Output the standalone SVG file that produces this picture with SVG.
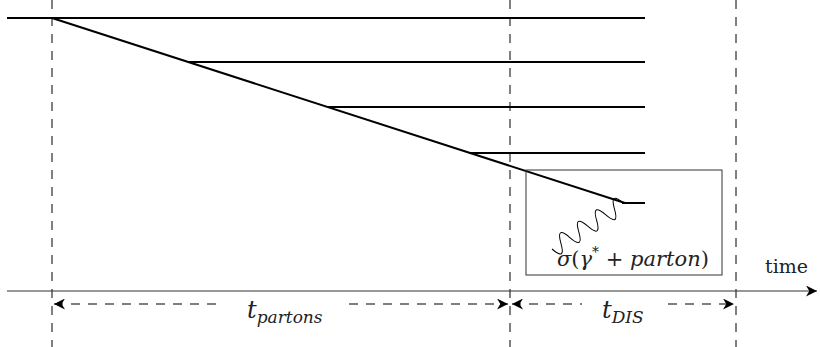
<svg xmlns="http://www.w3.org/2000/svg" width="820" height="347" viewBox="0 0 820 347">
<defs>
<marker id="ah" viewBox="0 0 10 10" refX="10" refY="5" markerWidth="11" markerHeight="11" markerUnits="userSpaceOnUse" orient="auto-start-reverse">
<path d="M0,0 L10,5 L0,10 L3,5 Z" fill="#000"/>
</marker>
</defs>
<style>
.line{stroke:#000;stroke-width:2;fill:none}
.vd{stroke:#000;stroke-width:1;stroke-dasharray:9 8;fill:none}
.ad{stroke:#000;stroke-width:1.2;stroke-dasharray:9 8;fill:none}
.t{font-family:"DejaVu Serif",serif;font-style:italic;fill:#222}
.r{font-family:"DejaVu Serif",serif;fill:#222}
</style>
<rect width="820" height="347" fill="#fff"/>
<g id="guides">
<line class="vd" x1="52" y1="0" x2="52" y2="347"/>
<line class="vd" x1="510" y1="0" x2="510" y2="347"/>
<line class="vd" x1="736" y1="0" x2="736" y2="347"/>
</g>
<g id="partons">
<line class="line" x1="7" y1="18" x2="645" y2="18"/>
<line class="line" x1="52" y1="18" x2="625" y2="203"/>
<line class="line" x1="188" y1="62" x2="645" y2="62"/>
<line class="line" x1="328" y1="107" x2="645" y2="107"/>
<line class="line" x1="469" y1="153" x2="645" y2="153"/>
<line class="line" x1="622" y1="203" x2="645" y2="203"/>
</g>
<g id="dis-box">
<rect x="526" y="170" width="196" height="105" fill="none" stroke="#333" stroke-width="1"/>
<path transform="translate(552,249) rotate(-32.6)" d="M0,0 Q5.3,18 10.6,0 T21.2,0 T31.8,0 T42.4,0 T53,0 T63.6,0 T74.2,0 T84.8,0" fill="none" stroke="#000" stroke-width="1"/>
<text class="r" x="557" y="266" font-size="21"><tspan class="t">σ</tspan>(<tspan class="t">γ</tspan><tspan font-size="14" dy="-9">*</tspan><tspan dy="9"> + </tspan><tspan class="t">parton</tspan>)</text>
</g>
<g id="connectors">
<line x1="7" y1="291" x2="817" y2="291" stroke="#333" stroke-width="1.2" marker-end="url(#ah)"/>
<line class="ad" x1="54" y1="304" x2="216" y2="304" marker-start="url(#ah)"/>
<line class="ad" x1="349" y1="304" x2="508" y2="304" marker-end="url(#ah)"/>
<line class="ad" x1="512" y1="304" x2="582" y2="304" marker-start="url(#ah)"/>
<line class="ad" x1="668" y1="304" x2="734" y2="304" marker-end="url(#ah)"/>
</g>
<g id="labels">
<text class="r" x="765" y="273" font-size="19">time</text>
<text class="t" x="247" y="318" font-size="24">t<tspan font-size="17" dy="5">partons</tspan></text>
<text class="t" x="602" y="318" font-size="24">t<tspan font-size="17" dy="5">DIS</tspan></text>
</g>
</svg>
